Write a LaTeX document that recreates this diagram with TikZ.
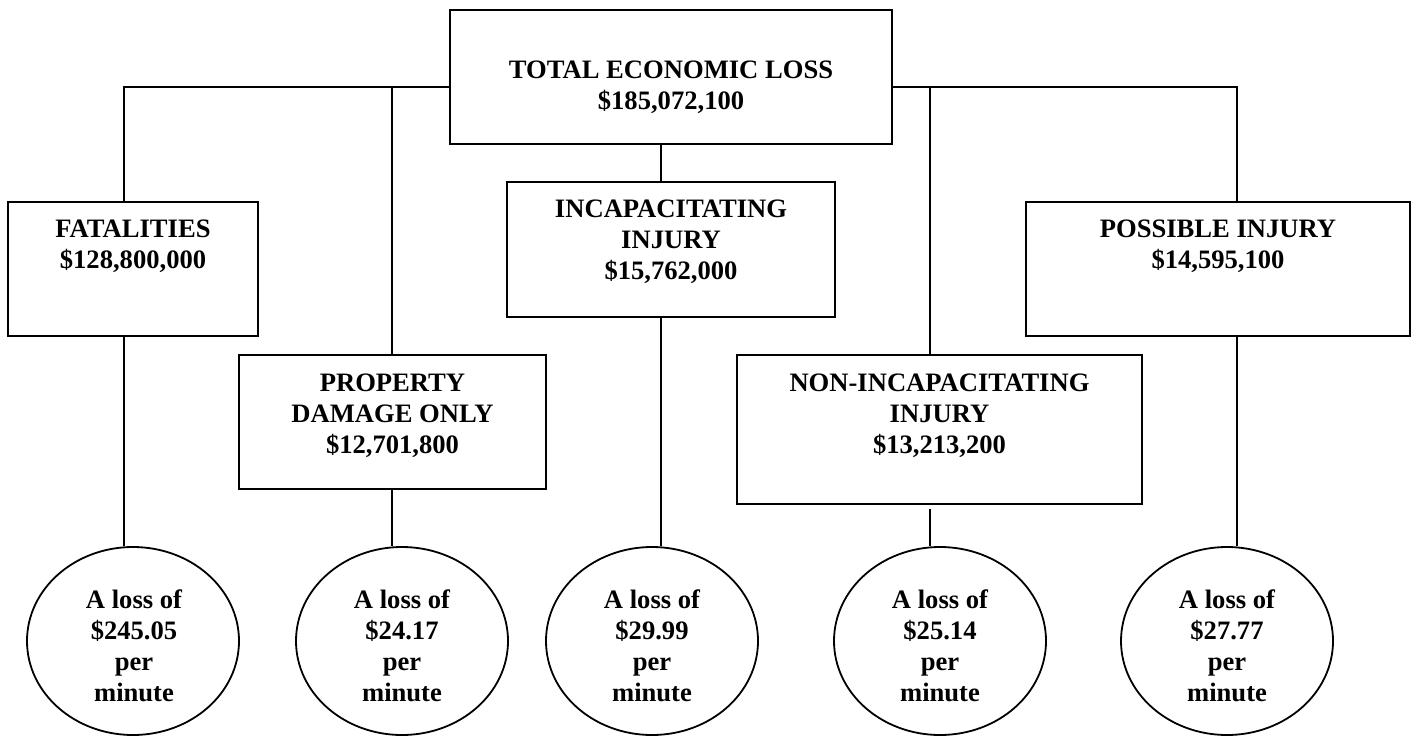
\documentclass[tikz,border=0pt]{standalone}
\usepackage{fontspec}
\setmainfont{Liberation Serif}
\usetikzlibrary{shapes.geometric}
\tikzset{
  box/.style={draw, line width=1.1pt, inner sep=0pt},
  oval/.style={draw, ellipse, line width=0.9pt, inner sep=0pt, minimum width=106pt, minimum height=94pt},
  lbl/.style={align=center, inner sep=0pt, font=\bfseries\fontsize{13.3}{15.5}\selectfont},
  link/.style={line width=0.8pt}
}
\begin{document}
\begin{tikzpicture}[x=0.5pt,y=-0.5pt]
\useasboundingbox (0,0) rectangle (1416,737);
% boxes
\node[box, minimum width=221pt, minimum height=67pt] (top) at (671,77) {};
\node[box, minimum width=125pt, minimum height=67pt] (fat) at (133,269) {};
\node[box, minimum width=164pt, minimum height=67.5pt] (inc) at (671,249.5) {};
\node[box, minimum width=153.5pt, minimum height=67pt] (prop) at (392.5,422) {};
\node[box, minimum width=202.5pt, minimum height=74.5pt] (ni) at (939.5,429.5) {};
\node[box, minimum width=192pt, minimum height=67pt] (poss) at (1218,269) {};
% box texts
\node[lbl] (topT) at (671,88) {\strut TOTAL ECONOMIC LOSS\\\strut\$185,072,100};
\node[lbl] (fatT) at (133,247) {\strut FATALITIES\\\strut\$128,800,000};
\node[lbl] (incT) at (671,242) {\strut INCAPACITATING\\\strut INJURY\\\strut\$15,762,000};
\node[lbl] (propT) at (392.5,416) {\strut PROPERTY\\\strut DAMAGE ONLY\\\strut\$12,701,800};
\node[lbl] (niT) at (939.5,416) {\strut NON-INCAPACITATING\\\strut INJURY\\\strut\$13,213,200};
\node[lbl] (possT) at (1218,247) {\strut POSSIBLE INJURY\\\strut\$14,595,100};
% ovals
\node[oval] (c1) at (133,641) {};
\node[oval] (c2) at (402,641) {};
\node[oval] (c3) at (652,641) {};
\node[oval] (c4) at (940,641) {};
\node[oval] (c5) at (1227,641) {};
\node[lbl] (c1T) at (134,649) {\strut A loss of\\\strut\$245.05\\\strut per\\\strut minute};
\node[lbl] (c2T) at (402,649) {\strut A loss of\\\strut\$24.17\\\strut per\\\strut minute};
\node[lbl] (c3T) at (652,649) {\strut A loss of\\\strut\$29.99\\\strut per\\\strut minute};
\node[lbl] (c4T) at (940,649) {\strut A loss of\\\strut\$25.14\\\strut per\\\strut minute};
\node[lbl] (c5T) at (1227,649) {\strut A loss of\\\strut\$27.77\\\strut per\\\strut minute};
% connector coordinates
\coordinate (xA) at (124,87);
\coordinate (xB) at (392,87);
\coordinate (xC) at (661,87);
\coordinate (xD) at (930,87);
\coordinate (xE) at (1237,87);
\coordinate (niB) at ([yshift=-2pt]ni.south);
% connectors
\draw[link] (top.west |- xA) -- (xA) -- (xA |- fat.north);
\draw[link] (xB) -- (xB |- prop.north);
\draw[link] (top.east |- xE) -- (xE) -- (xE |- poss.north);
\draw[link] (xD) -- (xD |- ni.north);
\draw[link] (xC |- top.south) -- (xC |- inc.north);
\draw[link] (xA |- fat.south) -- (xA |- c1.north);
\draw[link] (xB |- prop.south) -- (xB |- c2.north);
\draw[link] (xC |- inc.south) -- (xC |- c3.north);
\draw[link] (xD |- niB) -- (xD |- c4.north);
\draw[link] (xE |- poss.south) -- (xE |- c5.north);
\end{tikzpicture}
\end{document}
